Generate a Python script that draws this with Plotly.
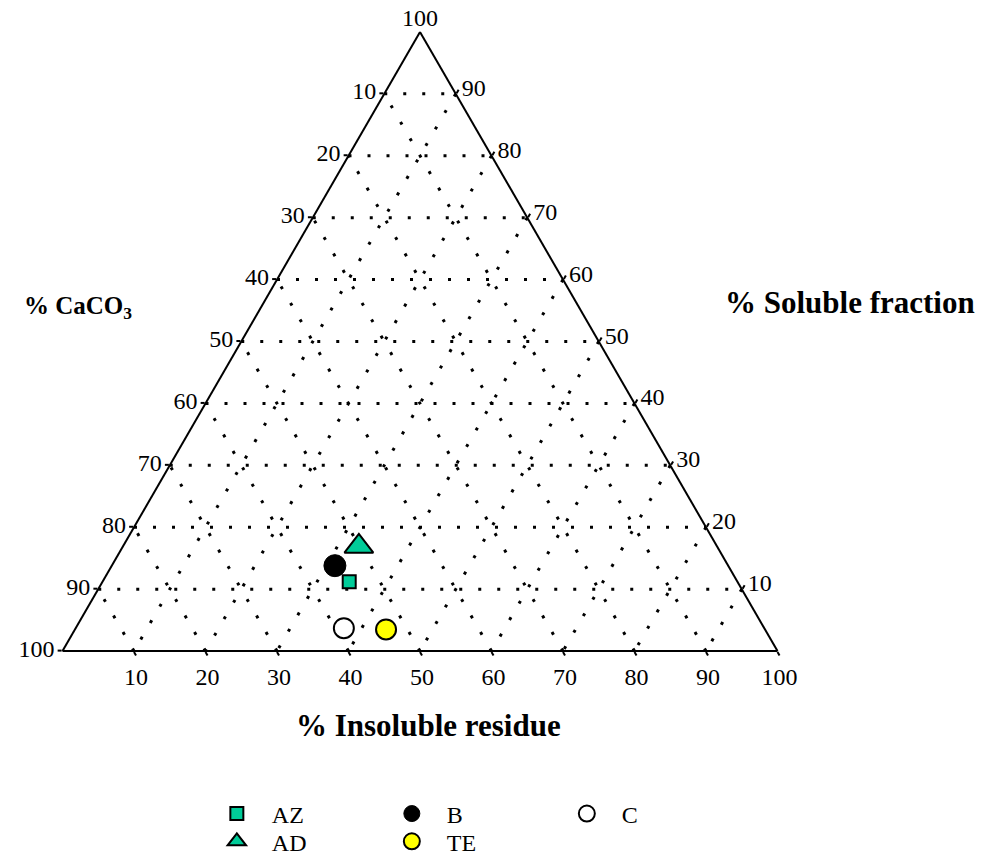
import plotly.graph_objects as go

# ---- data (values in %) ----
samples = ["AZ", "B", "C", "AD", "TE"]
soluble = [11.2, 13.8, 3.7, 16.9, 3.5]       # top vertex (a)
caco3 = [54.3, 55.0, 58.8, 50.1, 53.0]       # bottom-left vertex (b)
insoluble = [34.5, 31.2, 37.5, 33.0, 43.5]   # bottom-right vertex (c)

grid_vals = [0, 10, 20, 30, 40, 50, 60, 70, 80, 90]
a_tick_text = ["100", "90", "80", "70", "60", "50", "40", "30", "20", "10"]   # CaCO3 read on left edge
b_tick_text = ["100", "90", "80", "70", "60", "50", "40", "30", "20", "10"]   # insoluble read on bottom edge
c_grid_vals = [10, 20, 30, 40, 50, 60, 70, 80, 90]
c_tick_text = ["90", "80", "70", "60", "50", "40", "30", "20", "10"]         # soluble read on right edge
top_label = "100"

TEAL = "#00CC99"
styles = {
    "AZ": dict(symbol="square", size=13, color=TEAL, line=dict(color="black", width=2)),
    "B": dict(symbol="circle", size=22, color="black", line=dict(color="black", width=1)),
    "C": dict(symbol="circle", size=20, color="white", line=dict(color="black", width=2)),
    "AD": dict(symbol="triangle-up", size=25, color=TEAL, line=dict(color="black", width=2)),
    "TE": dict(symbol="circle", size=20, color="#FFFF00", line=dict(color="black", width=2)),
}
legend_of = {"AZ": "legend", "B": "legend", "C": "legend", "AD": "legend2", "TE": "legend2"}
rank = {"AZ": 1, "B": 2, "C": 3, "AD": 4, "TE": 5}
draw_order = ["C", "TE", "B", "AZ", "AD"]

FONT = "Liberation Serif, Times New Roman, serif"

fig = go.Figure()
for name in draw_order:
    i = samples.index(name)
    fig.add_trace(go.Scatterternary(
        a=[soluble[i]], b=[caco3[i]], c=[insoluble[i]],
        mode="markers", name=name, marker=styles[name],
        legend=legend_of[name], legendrank=rank[name],
    ))

# label of the top vertex (soluble fraction = 100)
fig.add_trace(go.Scatterternary(
    a=[100], b=[0], c=[0], mode="text", text=[top_label],
    textposition="top center", textfont=dict(family=FONT, size=24, color="black"),
    showlegend=False, hoverinfo="skip", cliponaxis=False,
))

axis_common = dict(
    showgrid=True, gridcolor="black", gridwidth=2.5, griddash="3px,16px",
    showline=True, linecolor="black", linewidth=2,
    ticks="outside", ticklen=4, tickwidth=2, tickcolor="black",
    tickfont=dict(family=FONT, size=24, color="black"),
    layer="below traces", min=0, title=dict(text=""),
    tickmode="array",
)

fig.update_layout(
    width=989, height=867,
    margin=dict(l=0, r=0, t=0, b=0),
    paper_bgcolor="white", plot_bgcolor="white",
    font=dict(family=FONT, color="black"),
    ternary=dict(
        sum=100, bgcolor="white",
        domain=dict(x=[0.05511, 0.77806], y=[0.25184, 0.97884]),
        aaxis=dict(axis_common, tickvals=grid_vals, ticktext=a_tick_text),
        baxis=dict(axis_common, tickvals=grid_vals, ticktext=b_tick_text),
        caxis=dict(axis_common, tickvals=c_grid_vals, ticktext=c_tick_text),
    ),
    legend=dict(orientation="h", x=0.196, y=0.0704, xanchor="left", yanchor="middle",
                font=dict(family=FONT, size=24, color="black"), itemwidth=60,
                entrywidth=100, entrywidthmode="pixels", bgcolor="rgba(0,0,0,0)"),
    legend2=dict(orientation="h", x=0.196, y=0.0384, xanchor="left", yanchor="middle",
                 font=dict(family=FONT, size=24, color="black"), itemwidth=60,
                 entrywidth=100, entrywidthmode="pixels", bgcolor="rgba(0,0,0,0)"),
    annotations=[
        dict(text="<b>% CaCO<sub>3</sub></b>", x=0.0705, y=0.655, xref="paper", yref="paper",
             xanchor="center", yanchor="middle",
             showarrow=False, font=dict(family=FONT, size=25, color="black")),
        dict(text="<b>% Soluble fraction</b>", x=0.8515, y=0.660, xref="paper", yref="paper",
             xanchor="center", yanchor="middle",
             showarrow=False, font=dict(family=FONT, size=31, color="black")),
        dict(text="<b>% Insoluble residue</b>", x=0.4252, y=0.173, xref="paper", yref="paper",
             xanchor="center", yanchor="middle",
             showarrow=False, font=dict(family=FONT, size=31, color="black")),
    ],
)

fig.write_html("out.html")
